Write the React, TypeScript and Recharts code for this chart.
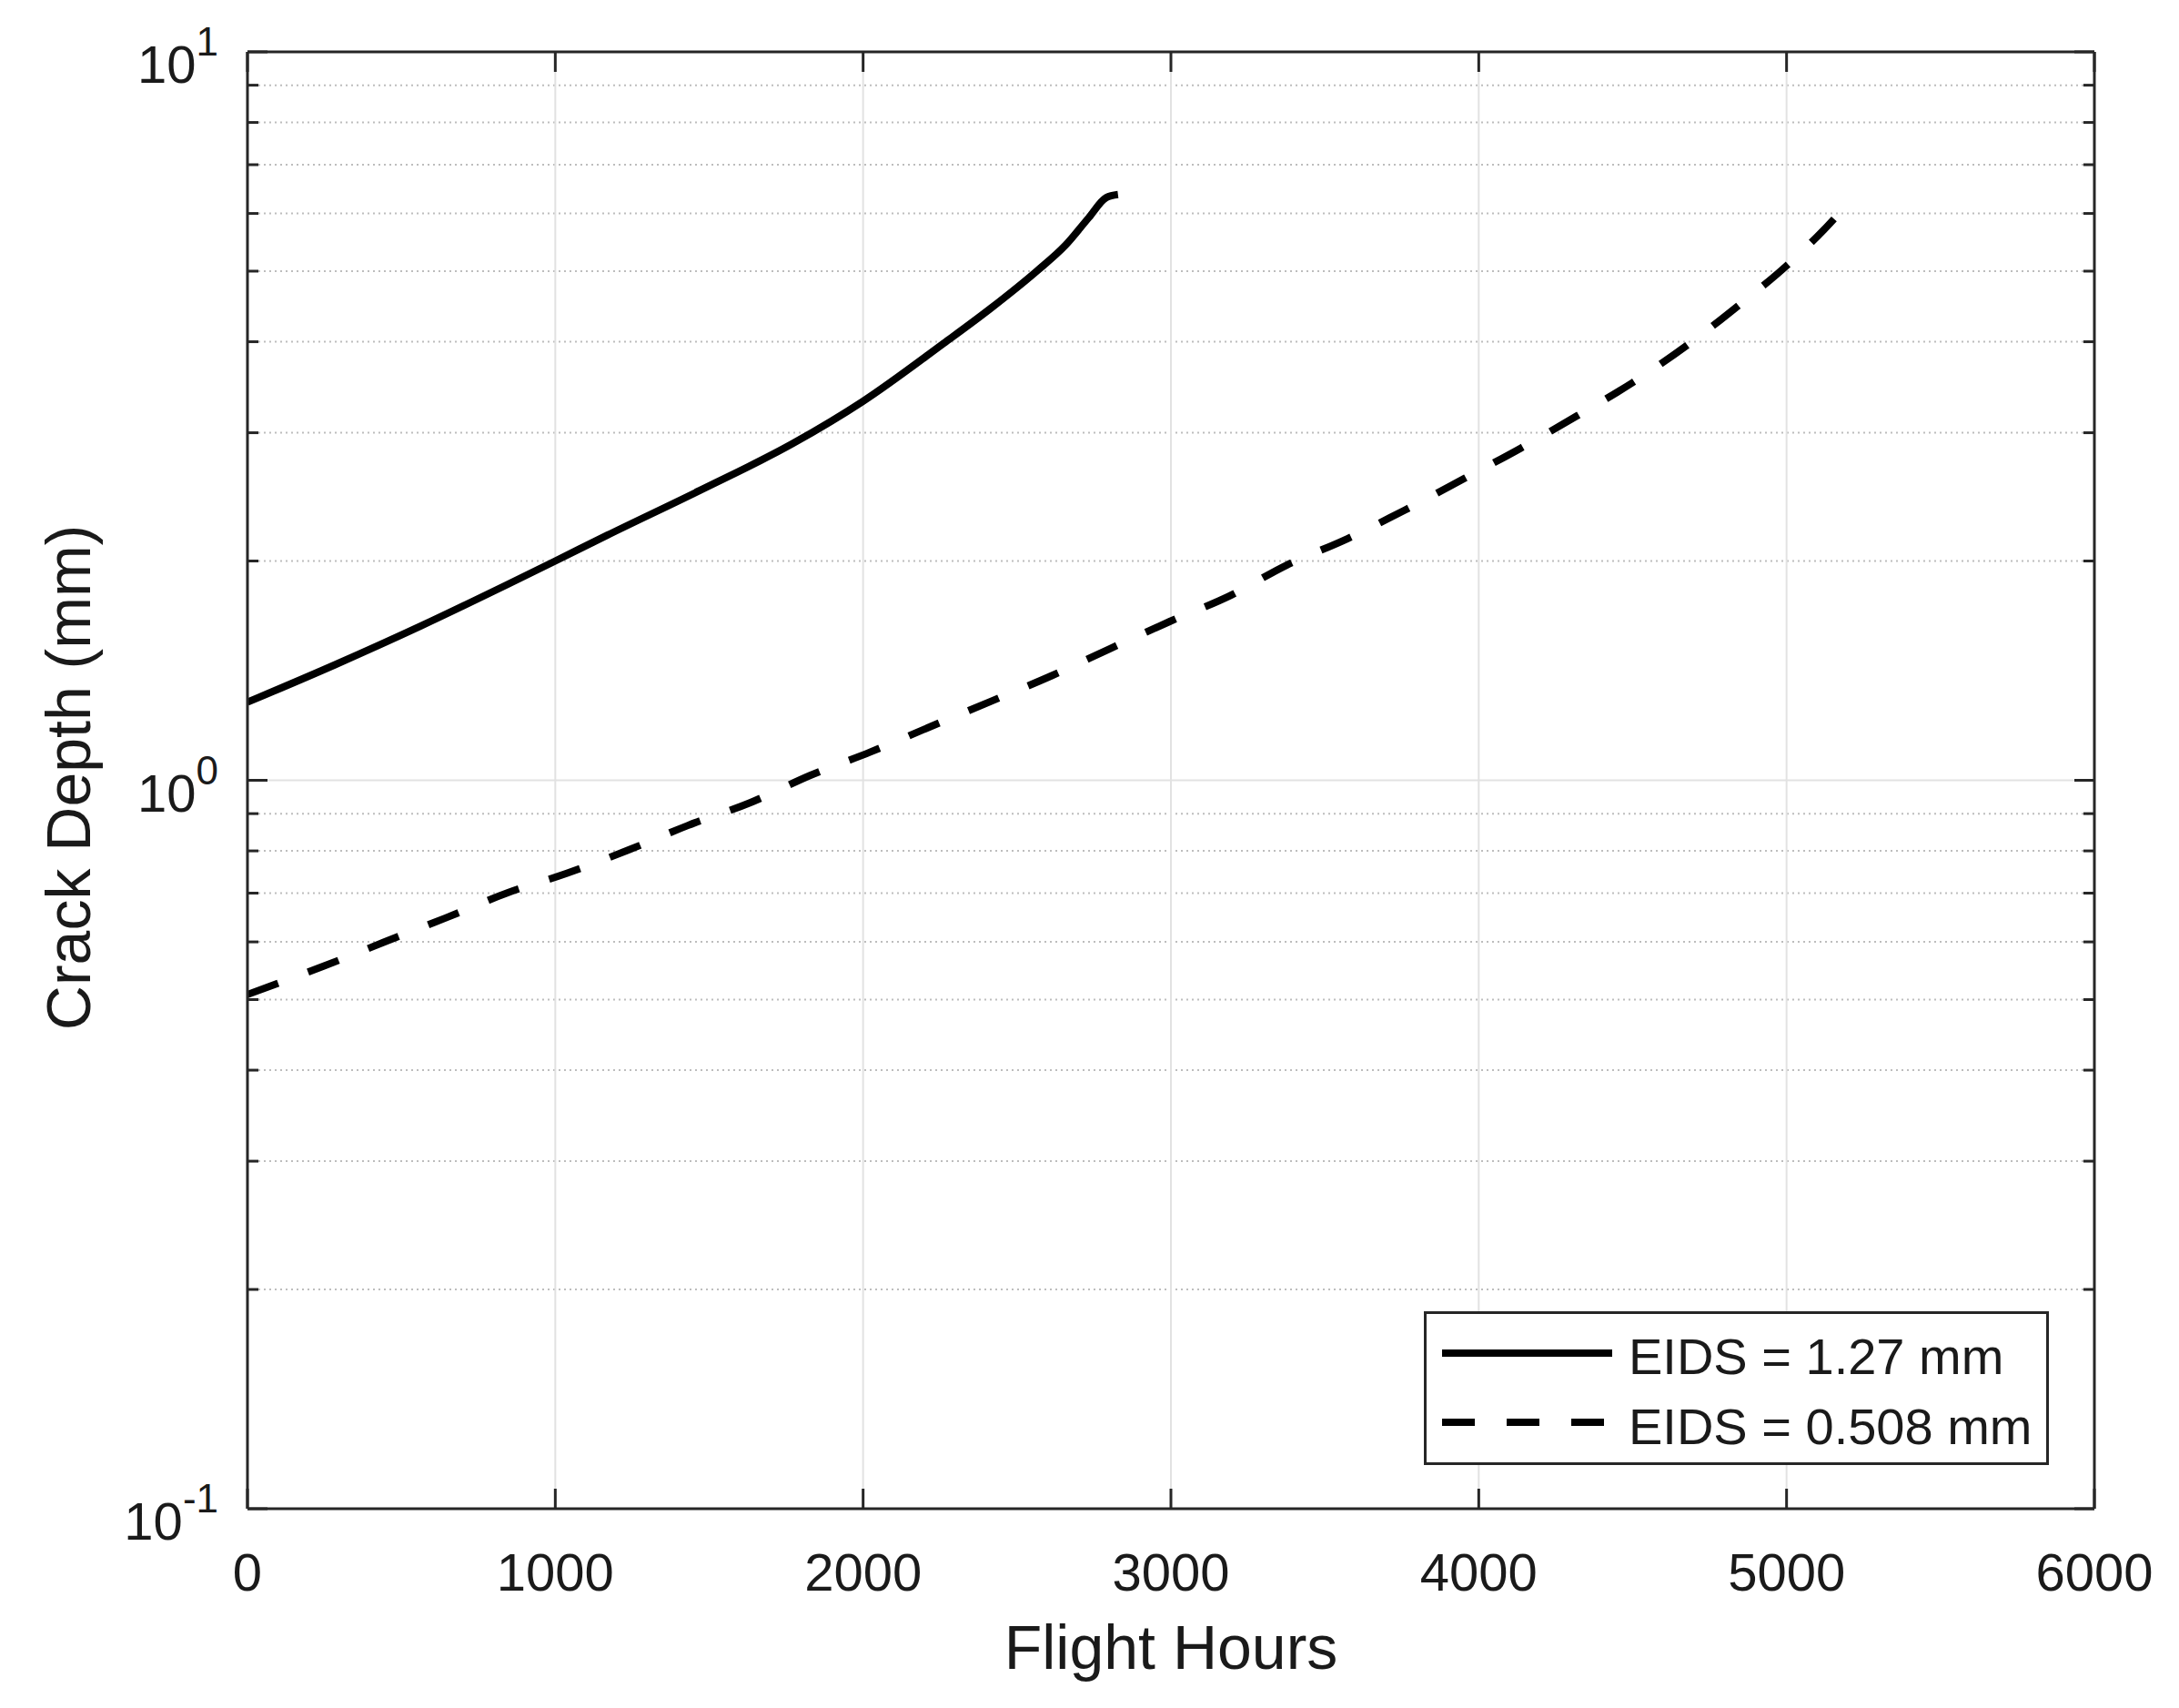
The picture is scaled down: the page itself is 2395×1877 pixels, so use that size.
import { LineChart, Line, XAxis, YAxis, CartesianGrid, Legend } from 'recharts';

// flight hours vs crack depth (mm)
const solidHours = [0, 283, 565, 848, 1000, 1169, 1470, 1772, 1998, 2262, 2413, 2564, 2658, 2733, 2790, 2828];
const solidDepth = [1.28, 1.44, 1.63, 1.86, 2.0, 2.17, 2.5, 2.9, 3.31, 3.98, 4.44, 5.0, 5.43, 5.92, 6.31, 6.37];

const dashedHours = [
  0, 249, 446, 643, 846, 1037, 1240, 1431, 1634, 1829, 2022, 2219, 2416, 2613, 2804,
  2996, 3189, 3376, 3573, 3759, 3956, 4137, 4319, 4502, 4682, 4848, 5003, 5158, 5200,
];
const dashedDepth = [
  0.508, 0.556, 0.6, 0.647, 0.701, 0.745, 0.803, 0.867, 0.932, 1.016, 1.093, 1.185, 1.284, 1.392, 1.517,
  1.652, 1.79, 1.974, 2.146, 2.348, 2.6, 2.858, 3.164, 3.52, 3.97, 4.5, 5.1, 5.92, 6.2,
];

const seriesNames = ['EIDS = 1.27 mm', 'EIDS = 0.508 mm'];

const xTicks = [0, 1000, 2000, 3000, 4000, 5000, 6000];
const yMajorTicks = [0.1, 1, 10];
const yMinorTicks = [0.2, 0.3, 0.4, 0.5, 0.6, 0.7, 0.8, 0.9, 2, 3, 4, 5, 6, 7, 8, 9];
const yAllTicks = [...yMajorTicks, ...yMinorTicks].sort((a, b) => a - b);

const solidData = solidHours.map((h, i) => ({ h, d: solidDepth[i] }));
const dashedData = dashedHours.map((h, i) => ({ h, d: dashedDepth[i] }));

const FONT = '"Liberation Sans", Arial, Helvetica, sans-serif';
const AXIS = '#262626';
const TEXT = '#1a1a1a';
const DASH = '36 35';
const LINE_W = 8;

const isMajor = (v: number) => yMajorTicks.some((m) => Math.abs(m - v) < 1e-9);

function LeftTick({ x, y, payload }: any) {
  const v = payload.value;
  const major = isMajor(v);
  const exp = Math.round(Math.log10(v));
  return (
    <g>
      <line x1={x} x2={x + (major ? 22 : 12)} y1={y} y2={y} stroke={AXIS} strokeWidth={3} />
      {major && (
        <text x={x - 32} y={y + 34} textAnchor="end" fill={TEXT} fontFamily={FONT}>
          <tspan fontSize={58}>10</tspan>
          <tspan fontSize={44} dy={-30}>{String(exp)}</tspan>
        </text>
      )}
    </g>
  );
}

function RightTick({ x, y, payload }: any) {
  const major = isMajor(payload.value);
  return <line x1={x} x2={x - (major ? 22 : 12)} y1={y} y2={y} stroke={AXIS} strokeWidth={3} />;
}

function BottomTick({ x, y, payload }: any) {
  return (
    <g>
      <line x1={x} x2={x} y1={y} y2={y - 22} stroke={AXIS} strokeWidth={3} />
      <text x={x} y={y + 90} textAnchor="middle" fontSize={58} fill={TEXT} fontFamily={FONT}>
        {payload.value}
      </text>
    </g>
  );
}

function TopTick({ x, y }: any) {
  return <line x1={x} x2={x} y1={y} y2={y + 22} stroke={AXIS} strokeWidth={3} />;
}

function LegendBox() {
  return (
    <svg width={687} height={169} style={{ display: 'block' }}>
      <rect x={1.5} y={1.5} width={684} height={166} fill="#fff" stroke={AXIS} strokeWidth={3} />
      <line x1={20} x2={207} y1={46} y2={46} stroke="#000" strokeWidth={LINE_W} />
      <line x1={20} x2={207} y1={122} y2={122} stroke="#000" strokeWidth={LINE_W} strokeDasharray={DASH} />
      <text x={225} y={69} fontSize={56} fill={TEXT} fontFamily={FONT}>{seriesNames[0]}</text>
      <text x={225} y={146} fontSize={56} fill={TEXT} fontFamily={FONT}>{seriesNames[1]}</text>
    </svg>
  );
}

export default function App() {
  return (
    <div style={{ position: 'absolute', left: 0, top: 0, width: 2395, height: 1877, background: '#fff' }}>
      <LineChart width={2395} height={1877} margin={{ top: 56, right: 92, bottom: 69, left: 72 }}>
        <CartesianGrid
          horizontalValues={yMinorTicks}
          vertical={false}
          stroke="#bdbdbd"
          strokeDasharray="2 4"
          strokeWidth={2}
        />
        <CartesianGrid
          horizontalValues={[1]}
          verticalValues={xTicks.slice(1, -1)}
          stroke="#e2e2e2"
          strokeWidth={2}
        />
        <XAxis
          type="number"
          dataKey="h"
          domain={[0, 6000]}
          ticks={xTicks}
          interval={0}
          height={150}
          tickSize={0}
          tickMargin={0}
          tickLine={false}
          tick={<BottomTick />}
          axisLine={{ stroke: AXIS, strokeWidth: 3 }}
          allowDataOverflow
          label={(p: any) => (
            <text
              x={p.viewBox.x + p.viewBox.width / 2}
              y={p.viewBox.y + 176}
              textAnchor="middle"
              fontSize={68}
              fill={TEXT}
              fontFamily={FONT}
            >
              Flight Hours
            </text>
          )}
        />
        <XAxis
          xAxisId="top"
          orientation="top"
          type="number"
          dataKey="h"
          domain={[0, 6000]}
          ticks={xTicks}
          interval={0}
          height={1}
          tickSize={0}
          tickMargin={0}
          tickLine={false}
          tick={<TopTick />}
          axisLine={{ stroke: AXIS, strokeWidth: 3 }}
          allowDataOverflow
        />
        <YAxis
          type="number"
          dataKey="d"
          scale="log"
          domain={[0.1, 10]}
          ticks={yAllTicks}
          interval={0}
          width={200}
          tickSize={0}
          tickMargin={0}
          tickLine={false}
          tick={<LeftTick />}
          axisLine={{ stroke: AXIS, strokeWidth: 3 }}
          allowDataOverflow
          label={(p: any) => (
            <text
              x={p.viewBox.x + 27}
              y={p.viewBox.y + p.viewBox.height / 2 - 3}
              textAnchor="middle"
              fontSize={68}
              fill={TEXT}
              fontFamily={FONT}
              transform={`rotate(-90, ${p.viewBox.x + 27}, ${p.viewBox.y + p.viewBox.height / 2 - 3})`}
            >
              Crack Depth (mm)
            </text>
          )}
        />
        <YAxis
          yAxisId="right"
          orientation="right"
          type="number"
          dataKey="d"
          scale="log"
          domain={[0.1, 10]}
          ticks={yAllTicks}
          interval={0}
          width={1}
          tickSize={0}
          tickMargin={0}
          tickLine={false}
          tick={<RightTick />}
          axisLine={{ stroke: AXIS, strokeWidth: 3 }}
          allowDataOverflow
        />
        <Line
          data={solidData}
          dataKey="d"
          name={seriesNames[0]}
          type="monotone"
          stroke="#000"
          strokeWidth={LINE_W}
          dot={false}
          isAnimationActive={false}
        />
        <Line
          data={dashedData}
          dataKey="d"
          name={seriesNames[1]}
          type="monotone"
          stroke="#000"
          strokeWidth={LINE_W}
          strokeDasharray={DASH}
          dot={false}
          isAnimationActive={false}
        />
        <Legend
          layout="horizontal"
          verticalAlign="middle"
          align="center"
          wrapperStyle={{ position: 'absolute', left: 1565, top: 1441, width: 687, height: 169 }}
          content={() => <LegendBox />}
        />
      </LineChart>
    </div>
  );
}
